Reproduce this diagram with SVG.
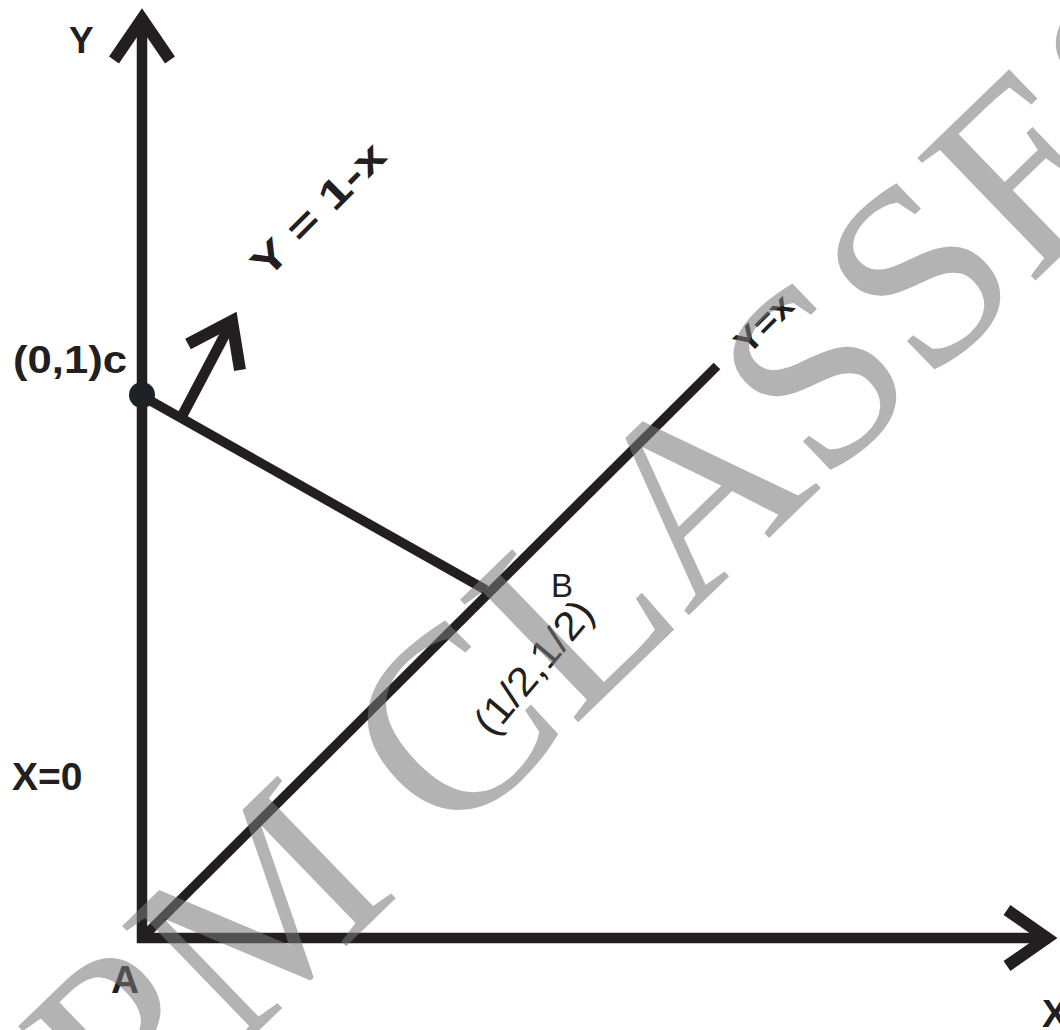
<svg xmlns="http://www.w3.org/2000/svg" width="1060" height="1030" viewBox="0 0 1060 1030">
  <style>
    .ln { stroke: #231f20; fill: none; stroke-linecap: butt; }
    .ax { stroke-width: 10.5; }
    .thin { stroke-width: 9.5; }
    .head { stroke-width: 12; stroke-linejoin: miter; stroke-miterlimit: 6; }
    .lb { font-family: "Liberation Sans", Arial, sans-serif; fill: #231f20; }
    .b { font-weight: bold; }
    .wm { font-family: "Liberation Serif", "Times New Roman", serif; fill: #787878; fill-opacity: 0.56; }
  </style>
  <rect width="1060" height="1030" fill="#ffffff"/>

  <g id="connectors">
    <line id="y-axis" class="ln ax" x1="142" y1="16" x2="142" y2="943"/>
    <polyline id="y-axis-head" class="ln head" points="114,60 142,19 170,60"/>
    <line id="x-axis" class="ln ax" x1="137" y1="938" x2="1050" y2="938"/>
    <polyline id="x-axis-head" class="ln head" points="1007,910 1047,938 1007,966"/>
    <line id="line-y-eq-x" class="ln thin" x1="142" y1="938" x2="717" y2="366"/>
    <line id="line-y-eq-1-x" class="ln thin" x1="142" y1="396" x2="486" y2="590"/>
    <line id="normal-shaft" class="ln ax" x1="182" y1="416" x2="230" y2="325"/>
    <polyline id="normal-head" class="ln head" points="188,344 232,321 240,370"/>
  </g>

  <g id="node-C">
    <circle cx="142" cy="395" r="13" fill="#1e2224"/>
    <text class="lb b" x="13" y="373" font-size="38" textLength="114" lengthAdjust="spacingAndGlyphs">(0,1)c</text>
  </g>
  <g id="node-A">
    <text class="lb b" x="111" y="993" font-size="39">A</text>
  </g>
  <g id="node-B">
    <text class="lb" x="551" y="597" font-size="33">B</text>
    <text class="lb" transform="translate(492,738) rotate(-50)" font-size="40" textLength="162" lengthAdjust="spacingAndGlyphs">(1/2,1/2)</text>
  </g>
  <g id="label-Y">
    <text class="lb b" x="69" y="53" font-size="37">Y</text>
  </g>
  <g id="label-X">
    <text class="lb b" x="1042" y="1027" font-size="39">X</text>
  </g>
  <g id="label-X0">
    <text class="lb b" x="12" y="790" font-size="39">X=0</text>
  </g>
  <g id="label-Y1x">
    <text class="lb b" transform="translate(267,280) rotate(-45)" font-size="40" textLength="172" lengthAdjust="spacingAndGlyphs">Y = 1-x</text>
  </g>
  <g id="label-Yx">
    <text class="lb b" transform="translate(748,356) rotate(-45)" font-size="34" textLength="68" lengthAdjust="spacingAndGlyphs">Y=x</text>
  </g>

  <g id="watermark">
    <text class="wm" transform="translate(131,1154) rotate(-44)" font-size="260">PM CLASSES</text>
  </g>
</svg>
